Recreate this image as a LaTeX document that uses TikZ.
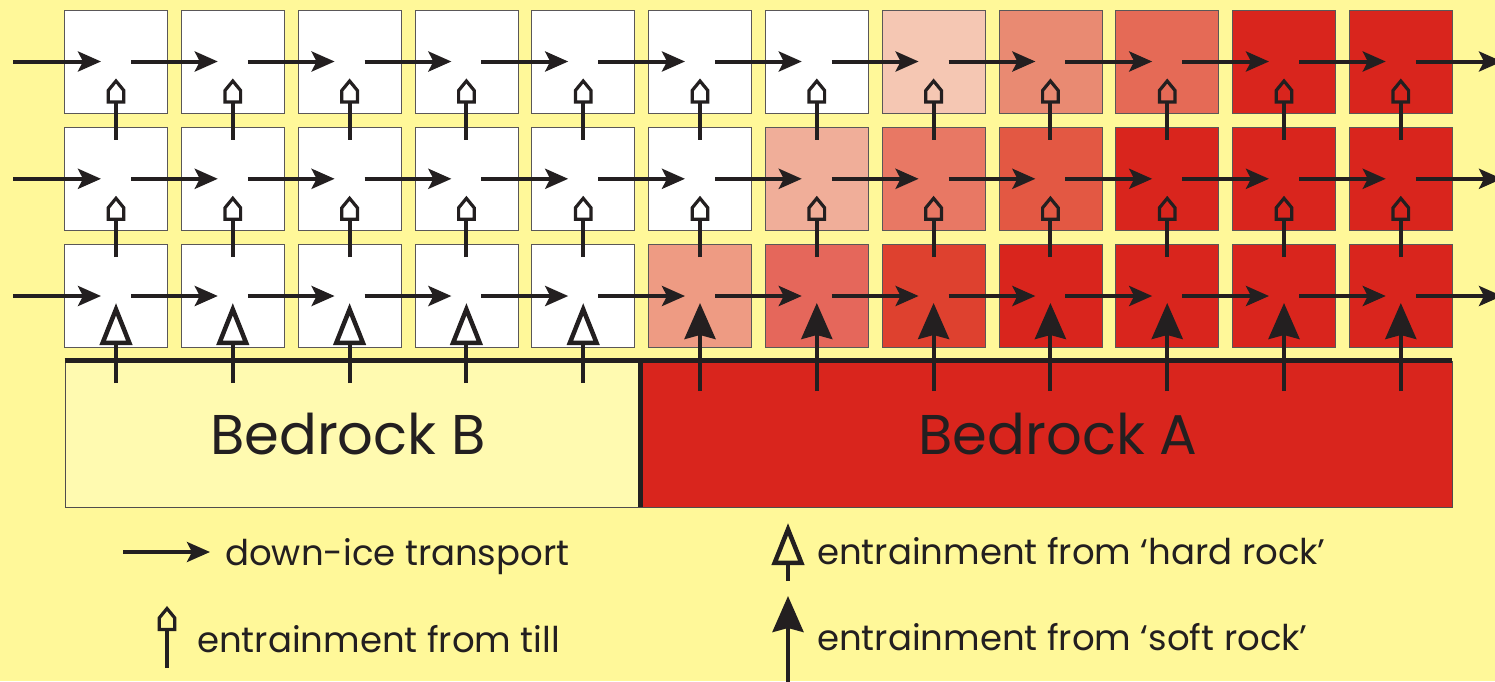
\documentclass[tikz,border=0pt]{standalone}
\usepackage{fontspec}
\setmainfont{Poppins}
\usetikzlibrary{arrows.meta,calc}
\definecolor{bg}{HTML}{FFF899}
\definecolor{bgB}{HTML}{FFFAB0}
\definecolor{ink}{HTML}{231F20}
\definecolor{rd}{HTML}{D9251D}
\definecolor{pa}{HTML}{F5C7B3}
\definecolor{pb}{HTML}{E98A72}
\definecolor{pc}{HTML}{E56A56}
\definecolor{pd}{HTML}{F0AE99}
\definecolor{pe}{HTML}{E87864}
\definecolor{pf}{HTML}{E35843}
\definecolor{pg}{HTML}{EE9B83}
\definecolor{ph}{HTML}{E5675B}
\definecolor{pi}{HTML}{DE412F}
\pgfdeclarearrow{
  name = House,
  setup code = {
    \pgfarrowssettipend{2.5pt}
    \pgfarrowssetlineend{-20pt}
    \pgfarrowssetbackend{-22.5pt}
  },
  drawing code = {
    \pgfsetlinewidth{3.2pt}
    \pgfsetmiterjoin
    \pgfpathmoveto{\pgfqpoint{0pt}{0pt}}
    \pgfpathlineto{\pgfqpoint{-9.5pt}{7.8pt}}
    \pgfpathlineto{\pgfqpoint{-21pt}{7.8pt}}
    \pgfpathlineto{\pgfqpoint{-21pt}{-7.8pt}}
    \pgfpathlineto{\pgfqpoint{-9.5pt}{-7.8pt}}
    \pgfpathclose
    \pgfusepathqstroke
  }
}
\tikzset{
  cell/.style={draw=ink!75, line width=0.8pt, minimum size=103pt, inner sep=0pt},
  flow/.style={draw=ink, line width=4pt, -{Stealth[length=23pt,width=20pt,inset=5pt]}},
  till/.style={draw=ink, line width=4pt, -{House}},
  hard/.style={draw=ink, line width=4pt, -{Triangle[open,length=42pt,width=32pt,line width=4.5pt]}},
  soft/.style={draw=ink, line width=4pt, -{Stealth[length=36pt,width=31pt,inset=4pt]}},
  rock/.style={draw=ink!80, line width=0.8pt, inner sep=0pt, minimum height=146pt},
  rocklabel/.style={text=ink, font=\fontsize{56}{62}\selectfont, inner sep=0pt},
  legend/.style={text=ink, font=\fontsize{35.5}{40}\selectfont, inner sep=0pt, anchor=base west},
  baseline/.style={draw=ink, line width=4.5pt}
}
\begin{document}
\begin{tikzpicture}[x=1pt,y=-1pt]
\fill[bg] (0,0) rectangle (1495,681);
\useasboundingbox (0,0) rectangle (1495,681);
% cells
\foreach \c/\col in {1/white,2/white,3/white,4/white,5/white,6/white,7/white,8/pa,9/pb,10/pc,11/rd,12/rd}
  \node[cell, fill=\col] (c-1-\c) at ({116+116.8*(\c-1)}, 61.5) {};
\foreach \c/\col in {1/white,2/white,3/white,4/white,5/white,6/white,7/pd,8/pe,9/pf,10/rd,11/rd,12/rd}
  \node[cell, fill=\col] (c-2-\c) at ({116+116.8*(\c-1)}, 178.8) {};
\foreach \c/\col in {1/white,2/white,3/white,4/white,5/white,6/pg,7/ph,8/pi,9/rd,10/rd,11/rd,12/rd}
  \node[cell, fill=\col] (c-3-\c) at ({116+116.8*(\c-1)}, 296) {};
% bedrock
\node[rock, fill=bgB, minimum width=575pt] (B) at (352.5,434) {};
\node[rock, fill=rd, minimum width=812pt] (A) at (1046,434) {};
\node[rocklabel] (lB) at (348,434) {Bedrock B};
\node[rocklabel] (lA) at (1058,434) {Bedrock A};
\draw[baseline] (B.north west) -- (A.north east);
\draw[baseline] (B.north east) -- (B.south east);
% horizontal transport
\foreach \r/\y in {1/61.5,2/178.8,3/296} {
  \coordinate (in-\r) at (13,\y);
  \coordinate (out-\r) at (1502,\y);
  \draw[flow] (in-\r) -- ($(c-\r-1.center)+(-15,0)$);
  \foreach \c [remember=\c as \p (initially 1)] in {2,...,12}
    \draw[flow] ($(c-\r-\p.center)+(15,0)$) -- ($(c-\r-\c.center)+(-15,0)$);
  \draw[flow] ($(c-\r-12.center)+(15,0)$) -- (out-\r);
}
% till entrainment
\foreach \r/\s in {1/2,2/3}
  \foreach \c in {1,...,12}
    \draw[till] ($(c-\s-\c.center)+(0,-39)$) -- ($(c-\r-\c.center)+(0,17)$);
% bedrock entrainment
\foreach \c in {1,...,5}
  \draw[hard] ($(c-3-\c.center)+(0,87)$) -- ($(c-3-\c.center)+(0,7)$);
\foreach \c in {6,...,12}
  \draw[soft] ($(c-3-\c.center)+(0,95)$) -- ($(c-3-\c.center)+(0,7)$);
% legend
\coordinate (l1a) at (123,552);
\coordinate (l1b) at (210,552);
\draw[flow] (l1a) -- (l1b);
\node[legend] (t1) at (225,565) {down-ice transport};
\coordinate (l2a) at (167,668);
\coordinate (l2b) at (167,606);
\draw[till] (l2a) -- (l2b);
\node[legend] (t2) at (197,652) {entrainment from till};
\coordinate (l3a) at (788,581);
\coordinate (l3b) at (788,523);
\draw[hard] (l3a) -- (l3b);
\node[legend] (t3) at (817,564) {entrainment from ‘hard rock’};
\coordinate (l4a) at (788,690);
\coordinate (l4b) at (788,596);
\draw[soft] (l4a) -- (l4b);
\node[legend] (t4) at (817,650) {entrainment from ‘soft rock’};
\end{tikzpicture}
\end{document}
